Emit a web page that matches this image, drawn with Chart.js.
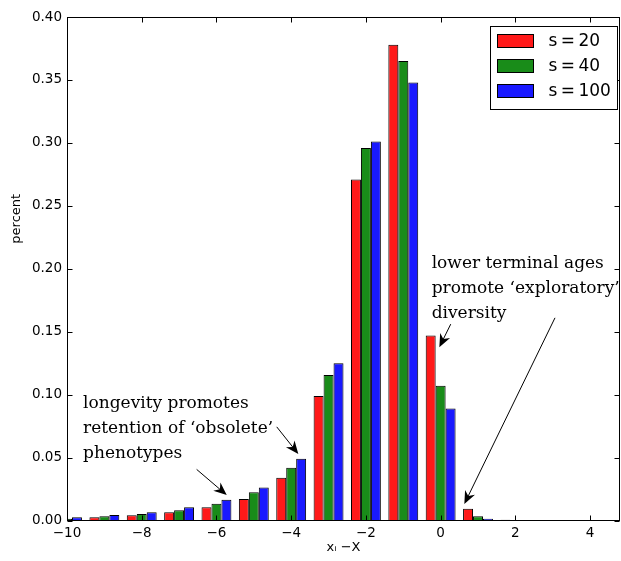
<!DOCTYPE html>
<html lang="en">
<head>
  <meta charset="UTF-8">
  <title>Distribution of xi - X</title>
  <script src="https://cdn.jsdelivr.net/npm/chart.js"></script>
  <style>
    html, body { margin: 0; padding: 0; background: #fff; }
    #wrap { width: 621px; height: 561px; }
  </style>
</head>
<body>
  <div id="wrap"><canvas id="chart" width="621" height="561"></canvas></div>

  <script>
    // bin centres (xi - X) and the share of each bin for the three values of s
    const bins = [-10, -9, -8, -7, -6, -5, -4, -3, -2, -1, 0, 1, 2, 3, 4];
    const s20  = [0.002, 0.0025, 0.0041, 0.0065, 0.0105, 0.017, 0.034, 0.099, 0.271, 0.378, 0.147, 0.0094, 0.0006, 0.0003, 0.0002];
    const s40  = [0.0013, 0.0033, 0.0052, 0.0081, 0.0133, 0.0224, 0.042, 0.1155, 0.296, 0.365, 0.107, 0.0033, 0.0004, 0.0002, 0.0001];
    const s100 = [0.0026, 0.0044, 0.0065, 0.0105, 0.0165, 0.0263, 0.049, 0.125, 0.301, 0.348, 0.089, 0.0014, 0.0002, 0.0001, 0.0001];
    const seriesLabels = ['s\u2009=\u200920', 's\u2009=\u200940', 's\u2009=\u2009100'];
    const xTicks = [-10, -8, -6, -4, -2, 0, 2, 4];
    const yTicks = [0, 0.05, 0.10, 0.15, 0.20, 0.25, 0.30, 0.35, 0.40];

    // text notes, placed in data coordinates (x, y of first baseline)
    const notes = [
      { lines: ['lower terminal ages', 'promote \u2018exploratory\u2019', 'diversity'], x: -0.24, y: 0.2004 },
      { lines: ['longevity promotes', 'retention of \u2018obsolete\u2019', 'phenotypes'], x: -9.57, y: 0.0893 }
    ];
    // arrows, tail -> head, in data coordinates
    const arrows = [
      { from: [0.27, 0.156], to: [-0.035, 0.1377] },
      { from: [3.06, 0.161], to: [0.634, 0.0131] },
      { from: [-6.53, 0.0406], to: [-5.725, 0.0202] },
      { from: [-4.387, 0.0744], to: [-3.809, 0.0528] }
    ];

    const colors = ['rgba(255,0,0,0.9)', 'rgba(0,128,0,0.9)', 'rgba(0,0,255,0.9)'];
    const tickFont = { family: 'DejaVu Sans', size: 13.5 };
    const minus = v => String(v).replace('-', '\u2212');

    const toPoints = vals => bins.map((b, i) => ({ x: b, y: vals[i] }));

    // frame with inward ticks on all four sides, axis titles
    const framePlugin = {
      id: 'frame',
      afterDatasetsDraw(chart) {
        const { ctx, chartArea: a, scales: { x, y } } = chart;
        const L = Math.round(a.left) + 0.5, R = Math.round(a.right) - 0.5;
        const T = Math.round(a.top) + 0.5, B = Math.round(a.bottom) - 0.5;
        const tl = 5;
        ctx.save();
        ctx.strokeStyle = '#000';
        ctx.lineWidth = 1;
        ctx.strokeRect(L, T, R - L, B - T);
        ctx.beginPath();
        xTicks.forEach(v => {
          const px = Math.round(x.getPixelForValue(v)) + 0.5;
          ctx.moveTo(px, B); ctx.lineTo(px, B - tl);
          ctx.moveTo(px, T); ctx.lineTo(px, T + tl);
        });
        yTicks.forEach(v => {
          const py = Math.round(y.getPixelForValue(v)) + 0.5;
          ctx.moveTo(L, py); ctx.lineTo(L + tl, py);
          ctx.moveTo(R, py); ctx.lineTo(R - tl, py);
        });
        ctx.stroke();

        // axis titles
        ctx.fillStyle = '#000';
        ctx.font = '13px "DejaVu Sans"';
        ctx.textAlign = 'center';
        ctx.textBaseline = 'middle';
        ctx.save();
        ctx.translate(17, (a.top + a.bottom) / 2 - 50);
        ctx.rotate(-Math.PI / 2);
        ctx.fillText('percent', 0, 0);
        ctx.restore();
        ctx.textBaseline = 'alphabetic';
        ctx.fillText('x\u1D62 \u2212X', (a.left + a.right) / 2, 551);
        ctx.restore();
      }
    };

    // legend box in the upper right corner of the plot
    const legendPlugin = {
      id: 'boxLegend',
      afterDraw(chart) {
        const { ctx, chartArea: a } = chart;
        const w = 127, h = 83;
        const bx = Math.round(a.right - 3 - w) + 0.5, by = Math.round(a.top + 9) + 0.5;
        ctx.save();
        ctx.fillStyle = '#fff';
        ctx.fillRect(bx, by, w, h);
        ctx.strokeStyle = '#000';
        ctx.lineWidth = 1;
        ctx.strokeRect(bx, by, w, h);
        ctx.font = '17px "DejaVu Sans"';
        ctx.textBaseline = 'middle';
        ctx.textAlign = 'left';
        seriesLabels.forEach((lab, i) => {
          const cy = by + 14 + i * 25;
          ctx.fillStyle = colors[i];
          ctx.fillRect(bx + 7, cy - 6, 36, 13);
          ctx.strokeRect(bx + 7, cy - 6, 36, 13);
          ctx.fillStyle = '#000';
          ctx.fillText(lab, bx + 58, cy + 1);
        });
        ctx.restore();
      }
    };

    // notes and arrows
    const notesPlugin = {
      id: 'notes',
      afterDraw(chart) {
        const { ctx, scales: { x, y } } = chart;
        ctx.save();
        ctx.fillStyle = '#000';
        ctx.font = '17px "DejaVu Serif"';
        ctx.textAlign = 'left';
        ctx.textBaseline = 'alphabetic';
        notes.forEach(n => {
          const px = x.getPixelForValue(n.x), py = y.getPixelForValue(n.y);
          n.lines.forEach((line, i) => ctx.fillText(line, px, py + i * 25));
        });

        ctx.strokeStyle = '#000';
        ctx.lineWidth = 1;
        arrows.forEach(ar => {
          const x0 = x.getPixelForValue(ar.from[0]), y0 = y.getPixelForValue(ar.from[1]);
          const x1 = x.getPixelForValue(ar.to[0]), y1 = y.getPixelForValue(ar.to[1]);
          const ang = Math.atan2(y1 - y0, x1 - x0);
          const hl = 13, hw = 5.5, notch = 4;
          const ux = Math.cos(ang), uy = Math.sin(ang);
          ctx.beginPath();
          ctx.moveTo(x0, y0);
          ctx.lineTo(x1 - ux * (hl - notch), y1 - uy * (hl - notch));
          ctx.stroke();
          ctx.beginPath();
          ctx.moveTo(x1, y1);
          ctx.lineTo(x1 - ux * hl - uy * hw, y1 - uy * hl + ux * hw);
          ctx.lineTo(x1 - ux * (hl - notch), y1 - uy * (hl - notch));
          ctx.lineTo(x1 - ux * hl + uy * hw, y1 - uy * hl - ux * hw);
          ctx.closePath();
          ctx.fill();
        });
        ctx.restore();
      }
    };

    const ctx = document.getElementById('chart').getContext('2d');
    new Chart(ctx, {
      type: 'bar',
      data: {
        datasets: [s20, s40, s100].map((vals, i) => ({
          label: seriesLabels[i],
          data: toPoints(vals),
          backgroundColor: colors[i],
          borderColor: '#000',
          borderWidth: 1,
          categoryPercentage: 0.8,
          barPercentage: 1.0
        }))
      },
      options: {
        responsive: false,
        animation: false,
        layout: { padding: { top: 17, right: 1, left: 0, bottom: 0 } },
        plugins: { legend: { display: false }, tooltip: { enabled: false } },
        scales: {
          x: {
            type: 'linear',
            min: -10,
            max: 4.8,
            offset: false,
            afterBuildTicks: s => { s.ticks = xTicks.map(v => ({ value: v })); },
            afterFit: s => { s.height = 40.5; },
            ticks: { font: tickFont, color: '#000', padding: 5, maxRotation: 0, autoSkip: false, callback: v => minus(v) },
            grid: { display: false, drawTicks: false },
            border: { display: false }
          },
          y: {
            min: 0,
            max: 0.4,
            afterBuildTicks: s => { s.ticks = yTicks.map(v => ({ value: v })); },
            afterFit: s => { s.width = 67; },
            ticks: { font: tickFont, color: '#000', padding: 5, callback: v => v.toFixed(2) },
            grid: { display: false, drawTicks: false },
            border: { display: false }
          }
        }
      },
      plugins: [framePlugin, legendPlugin, notesPlugin]
    });
  </script>
</body>
</html>
